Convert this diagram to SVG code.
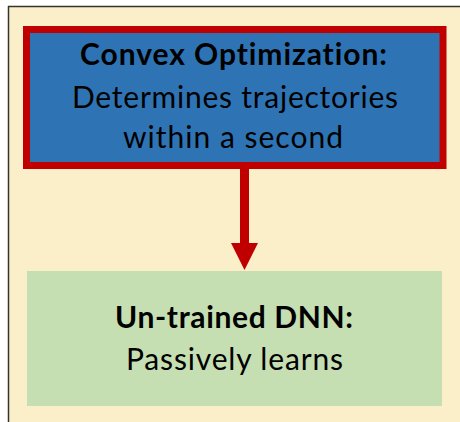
<svg xmlns="http://www.w3.org/2000/svg" width="460" height="422" viewBox="0 0 460 422">
<style>
.t{font-family:Lato,"Liberation Sans",sans-serif;font-size:30px;fill:#000;text-anchor:middle;font-variant-ligatures:none}
.b{font-weight:bold}
</style>
<rect x="0" y="0" width="460" height="422" fill="#ffffff"/>
<g id="frame">
<rect x="8" y="6" width="452" height="416" fill="#FBEFC9"/>
<line x1="8" y1="6.5" x2="460" y2="6.5" stroke="#333" stroke-width="1.5"/>
<line x1="8.5" y1="6" x2="8.5" y2="422" stroke="#333" stroke-width="1.5"/>
</g>
<g id="connectors">
<line x1="244.5" y1="169" x2="244.5" y2="245" stroke="#C00000" stroke-width="9"/>
<polygon points="231,243 258,243 244.5,270" fill="#C00000"/>
</g>
<g id="convex">
<rect x="26.5" y="29.5" width="416.5" height="136" fill="#2E74B5" stroke="#C00000" stroke-width="7"/>
<text class="t b" x="233.5" y="65" textLength="307" lengthAdjust="spacing">Convex Optimization:</text>
<text class="t" x="235" y="108" textLength="326" lengthAdjust="spacing">Determines trajectories</text>
<text class="t" x="233" y="148" textLength="220" lengthAdjust="spacing">within a second</text>
</g>
<g id="dnn">
<rect x="27" y="271" width="415" height="135" fill="#C5DFB2"/>
<text class="t b" x="234" y="328" textLength="238" lengthAdjust="spacing">Un-trained DNN:</text>
<text class="t" x="234.5" y="370" textLength="217" lengthAdjust="spacing">Passively learns</text>
</g>
</svg>
